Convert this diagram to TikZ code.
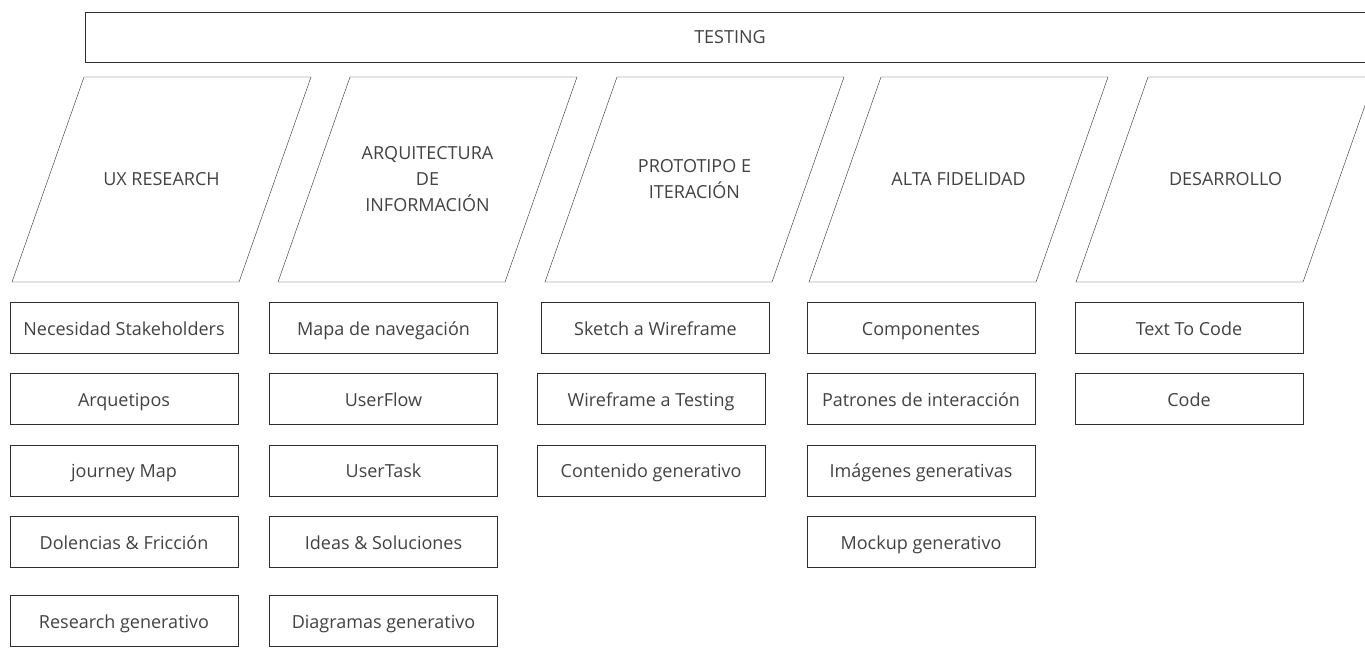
\documentclass[tikz,border=0pt]{standalone}
\usepackage{fontspec}
\setmainfont{Open Sans}
\usetikzlibrary{positioning}

\definecolor{linegray}{HTML}{2E2E2E}
\definecolor{textgray}{HTML}{424242}

% slanted outline drawn round a phase title
\newcommand{\phaseframe}[1]{%
	\draw[phaseline] (#1) ++(-149.5,102.5) -- ++(227,0) -- ++(72,-205) -- ++(-227,0) -- cycle;}

\tikzset{
	x=1pt, y=-1pt, node distance=20pt, line width=1.5pt,
	bar/.style={rectangle, draw=linegray, minimum width=1290pt, minimum height=50pt, text=textgray, font=\fontsize{18}{22}\selectfont},
	phase/.style={align=center, text=textgray, font=\fontsize{18}{26}\selectfont},
	phaseline/.style={draw=linegray, line join=miter},
	task/.style={rectangle, draw=linegray, minimum width=228pt, minimum height=51pt, inner sep=0pt, text height=17pt, text depth=2pt, text=textgray, font=\fontsize{18}{22}\selectfont}
}

\begin{document}
\begin{tikzpicture}
	\useasboundingbox[fill=white] (0,0) rectangle (1365,648);
	\clip (0,0) rectangle (1365,648);

	% top bar
	\node[bar] (testing) at (730,37) {TESTING};

	% phases
	\node[phase] (ux) at (161.5,179.5) {UX RESEARCH};
	\node[phase] (arq) at (427.5,179.5) {ARQUITECTURA\\DE\\INFORMACIÓN};
	\node[phase] (proto) at (694.5,179.5) {PROTOTIPO E\\ITERACIÓN};
	\node[phase] (alta) at (958.5,179.5) {ALTA FIDELIDAD};
	\node[phase] (des) at (1225.5,179.5) {DESARROLLO};
	\phaseframe{ux}
	\phaseframe{arq}
	\phaseframe{proto}
	\phaseframe{alta}
	\phaseframe{des}

	% UX research
	\node[task] (ux1) at (124,327.5) {Necesidad Stakeholders};
	\node[task, below=of ux1] (ux2) {Arquetipos};
	\node[task, below=of ux2] (ux3) {journey Map};
	\node[task, below=of ux3] (ux4) {Dolencias \& Fricción};
	\node[task, below=28pt of ux4] (ux5) {Research generativo};

	% arquitectura
	\node[task] (arq1) at (383.5,327.5) {Mapa de navegación};
	\node[task, below=of arq1] (arq2) {UserFlow};
	\node[task, below=of arq2] (arq3) {UserTask};
	\node[task, below=of arq3] (arq4) {Ideas \& Soluciones};
	\node[task, below=28pt of arq4] (arq5) {Diagramas generativo};

	% prototipo
	\node[task] (proto1) at (655.5,327.5) {Sketch a Wireframe};
	\node[task, below left=20pt and -224pt of proto1] (proto2) {Wireframe a Testing};
	\node[task, below=of proto2] (proto3) {Contenido generativo};

	% alta fidelidad
	\node[task] (alta1) at (921,327.5) {Componentes};
	\node[task, below=of alta1] (alta2) {Patrones de interacción};
	\node[task, below=of alta2] (alta3) {Imágenes generativas};
	\node[task, below=of alta3] (alta4) {Mockup generativo};

	% desarrollo
	\node[task] (des1) at (1189,327.5) {Text To Code};
	\node[task, below=of des1] (des2) {Code};
\end{tikzpicture}
\end{document}
